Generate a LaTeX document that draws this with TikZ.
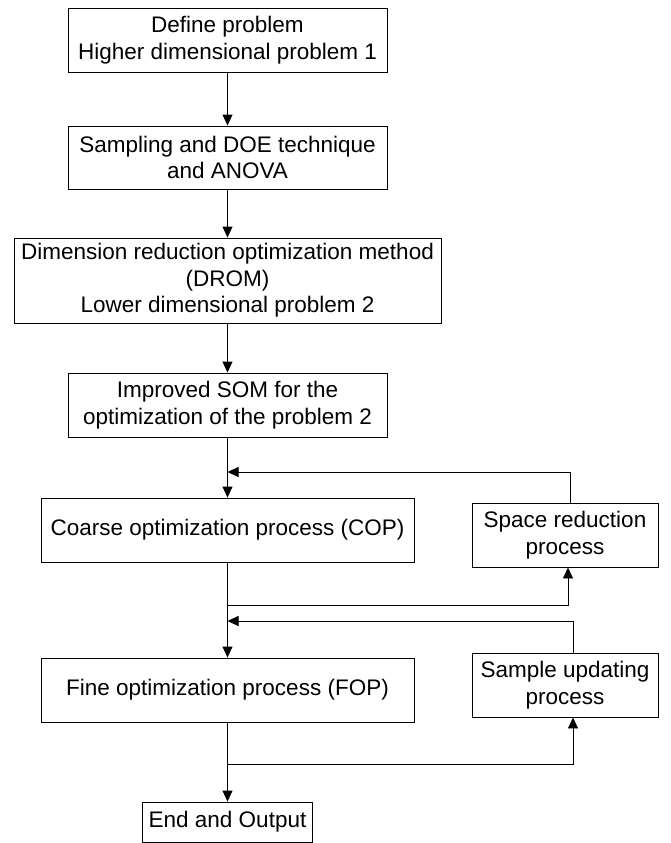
\documentclass[tikz,border=0pt]{standalone}
\usepackage{fontspec}
\setmainfont{Liberation Sans}
\usetikzlibrary{arrows.meta}
\begin{document}
\begin{tikzpicture}[x=1pt,y=-1pt,
  box/.style={draw, line width=0.9pt, align=center, inner sep=0pt,
    font=\fontsize{22.5}{26.5}\selectfont},
  arr/.style={draw, line width=0.9pt, -{Triangle[length=11pt,width=10pt]}},
  ln/.style={draw, line width=0.9pt}]
\useasboundingbox (0,0) rectangle (670,843);
\node[box, minimum width=319pt, minimum height=64pt] (b1) at (227.5,40) {Define problem\\Higher dimensional problem 1};
\node[box, minimum width=319pt, minimum height=63pt] (b2) at (227.5,157.5) {Sampling and DOE technique\\and ANOVA};
\node[box, minimum width=427pt, minimum height=85pt] (b3) at (227.5,280.5) {Dimension reduction optimization method\\(DROM)\\Lower dimensional problem 2};
\node[box, minimum width=319pt, minimum height=64pt] (b4) at (227.5,405) {Improved SOM for the\\optimization of the problem 2};
\node[box, minimum width=373pt, minimum height=64pt] (cop) at (227.5,530) {Coarse optimization process (COP)};
\node[box, minimum width=186pt, minimum height=64pt] (space) at (565,535) {Space reduction\\process};
\node[box, minimum width=373pt, minimum height=64pt] (fop) at (227.5,690) {Fine optimization process (FOP)};
\node[box, minimum width=186pt, minimum height=64pt] (sample) at (565,685) {Sample updating\\process};
\node[box, minimum width=170pt, minimum height=40pt] (end) at (227.5,822) {End and Output};
\coordinate (j1) at (227.5,472);
\coordinate (j2) at (227.5,605);
\coordinate (j3) at (227.5,621);
\coordinate (j4) at (227.5,764);
\draw[arr] (b1) -- (b2);
\draw[arr] (b2) -- (b3);
\draw[arr] (b3) -- (b4);
\draw[arr] (b4) -- (cop);
\draw[arr] ([xshift=5pt]space.north) |- (j1);
\draw[arr] (cop) -- (fop);
\draw[arr] (j2) -| ([xshift=3pt]space.south);
\draw[arr] ([xshift=8pt]sample.north) |- (j3);
\draw[arr] (fop) -- (end);
\draw[arr] (j4) -| ([xshift=8pt]sample.south);
\end{tikzpicture}
\end{document}
